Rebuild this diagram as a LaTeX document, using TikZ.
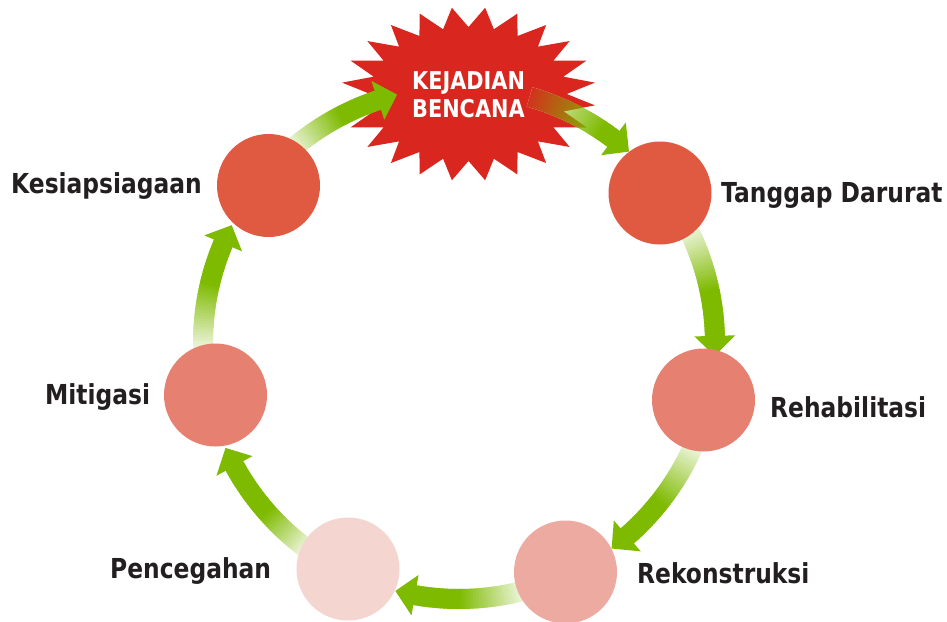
\documentclass[tikz,border=0pt]{standalone}
\usepackage{fontspec}
\newfontfamily\lblfont{DejaVu Sans}[FakeStretch=0.85]
\usetikzlibrary{calc}
\definecolor{arrowgreen}{RGB}{126,186,0}
\definecolor{starred}{RGB}{217,38,31}
\definecolor{cA}{RGB}{224,90,66}
\definecolor{cB}{RGB}{230,128,112}
\definecolor{cC}{RGB}{237,170,160}
\definecolor{cD}{RGB}{245,213,208}
\definecolor{txt}{RGB}{35,31,32}
\tikzset{
  stage/.style={circle, minimum size=103pt, inner sep=0pt, draw=none},
  lbl/.style={anchor=base west, inner sep=0pt, text=txt, font=\lblfont\bfseries\fontsize{27.5}{33}\selectfont},
}
\newcommand{\starshape}{({468.5+127.5*0.77},-94) \foreach \k in {1,...,47}{ -- ({468.5+127.5*ifthenelse(isodd(\k),1,0.77)*cos(7.5*\k)},{-94+87*ifthenelse(isodd(\k),1,0.77)*sin(7.5*\k)}) } -- cycle}
% #1 start angle, #2 tip angle, #3 fade fraction, #4 background colour
\newcommand{\ringarrow}[4]{%
  \pgfmathsetmacro{\shaftend}{#2+4.5}%
  \foreach \i in {0,...,39}{%
    \pgfmathsetmacro{\aA}{#1+(\shaftend-#1)*\i/40}%
    \pgfmathsetmacro{\aB}{#1+(\shaftend-#1)*(\i+1)/40-0.4}%
    \pgfmathsetmacro{\pcol}{min(100,8+92*(\i+0.5)/40/#3)}%
    \draw[line width=20pt, color=arrowgreen!\pcol!#4] ($(C)+(\aA:256pt)$) arc[start angle=\aA, end angle=\aB, radius=256pt];
  }%
  \fill[arrowgreen] ($(C)+(#2:256pt)$) -- ($(C)+(\shaftend:235.5pt)$) -- ($(C)+(\shaftend:276.5pt)$) -- cycle;
}
\begin{document}
\begin{tikzpicture}[x=1pt,y=1pt]
\fill[white] (0,0) rectangle (947,-621);
\useasboundingbox (0,0) rectangle (947,-621);
\coordinate (C) at (459,-343);
% burst
\fill[starred] \starshape;
% arrows
\ringarrow{131}{104}{0.6}{white}
\ringarrow{74}{48.4}{0.85}{white}
\begin{scope}
  \clip \starshape;
  \ringarrow{74}{48.4}{0.85}{starred}
\end{scope}
\ringarrow{27}{-2.9}{0.6}{white}
\ringarrow{-23}{-53.4}{0.6}{white}
\ringarrow{-75}{-104.4}{0.6}{white}
\ringarrow{-126}{-155.8}{0.5}{white}
\ringarrow{-178}{-207.4}{0.62}{white}
% stages
\node[stage, fill=cA] (kes) at (268.5,-185.5) {};
\node[stage, fill=cA] (tan) at (660,-193) {};
\node[stage, fill=cB] (reh) at (703.5,-400) {};
\node[stage, fill=cC] (rek) at (565.5,-572) {};
\node[stage, fill=cD] (pen) at (348,-569) {};
\node[stage, fill=cB] (mit) at (215.5,-395) {};
% labels
\node[lbl] (lkes) at (11,-193) {Kesiapsiagaan};
\node[lbl] (ltan) at (721,-202) {Tanggap Darurat};
\node[lbl] (lreh) at (770,-417) {Rehabilitasi};
\node[lbl] (lrek) at (637,-583) {Rekonstruksi};
\node[lbl] (lpen) at (110,-578) {Pencegahan};
\node[lbl] (lmit) at (45,-404) {Mitigasi};
\node[anchor=base west, inner sep=0pt, text=white, align=left, font=\lblfont\bfseries\fontsize{24.5}{28}\selectfont] (burst) at (412,-117) {KEJADIAN\\BENCANA};
\end{tikzpicture}
\end{document}
